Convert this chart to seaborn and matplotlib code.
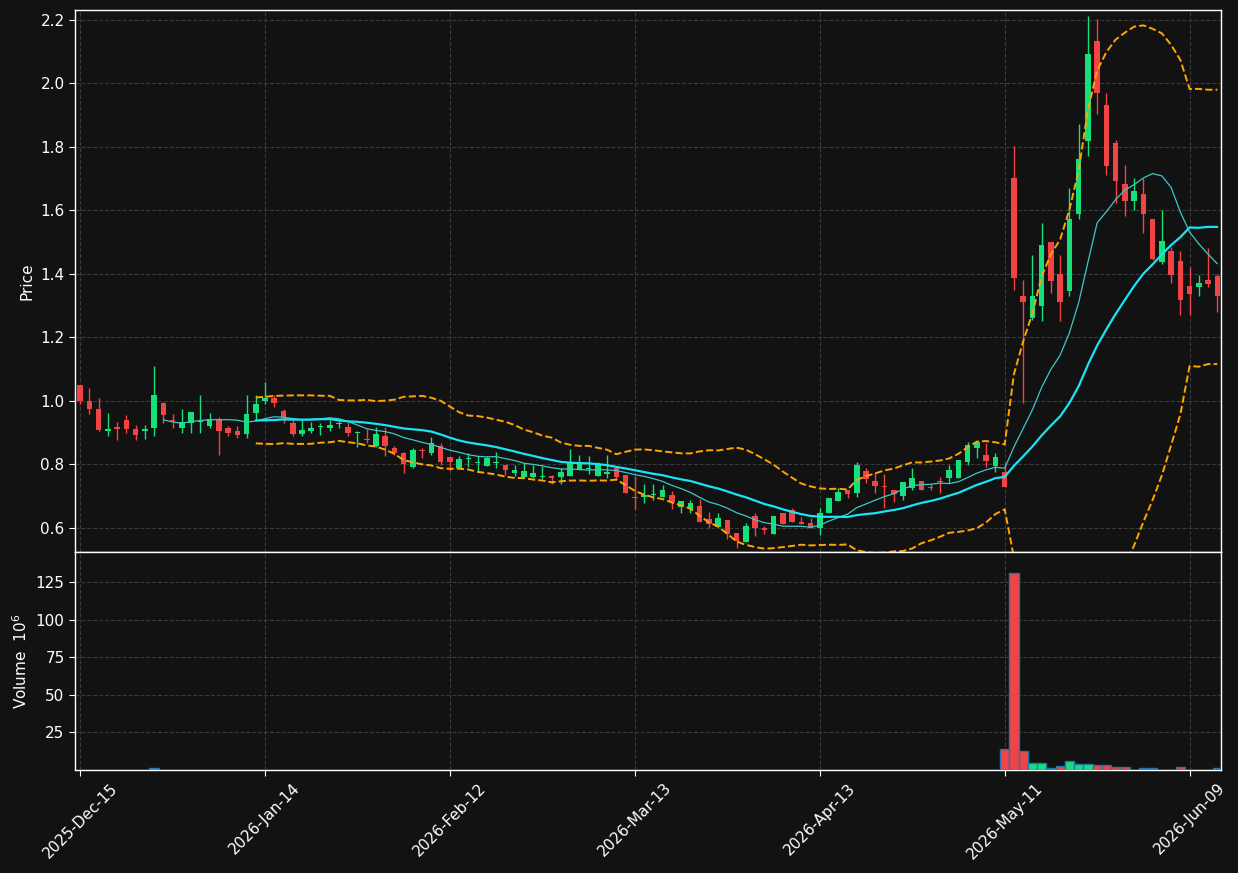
import numpy as np
import pandas as pd
import matplotlib
matplotlib.use('Agg')
import matplotlib.pyplot as plt
import seaborn as sns

# OHLC (mỗi phiên một giá trị)
opens = [1.05, 1.00, 0.975, 0.906, 0.918, 0.94, 0.91, 0.906, 0.916, 0.992,
         0.94, 0.916, 0.93, 0.932, 0.921, 0.942, 0.914, 0.905, 0.897, 0.963,
         1.00, 1.01, 0.968, 0.93, 0.897, 0.906, 0.917, 0.914, 0.928, 0.919,
         0.900, 0.88, 0.859, 0.89, 0.852, 0.835, 0.793, 0.845, 0.837, 0.858,
         0.823, 0.788, 0.816, 0.804, 0.796, 0.805, 0.798, 0.774, 0.76, 0.76,
         0.76, 0.762, 0.76, 0.762, 0.781, 0.785, 0.762, 0.769, 0.788, 0.767,
         0.697, 0.696, 0.702, 0.696, 0.704, 0.665, 0.659, 0.669, 0.628, 0.604,
         0.625, 0.583, 0.557, 0.638, 0.599, 0.581, 0.646, 0.657, 0.619, 0.615,
         0.599, 0.648, 0.686, 0.72, 0.709, 0.779, 0.748, 0.729, 0.72, 0.701,
         0.725, 0.748, 0.729, 0.746, 0.758, 0.758, 0.808, 0.85, 0.830, 0.795,
         0.777, 1.701, 1.331, 1.26, 1.30, 1.50, 1.399, 1.347, 1.589, 1.82,
         2.134, 1.932, 1.812, 1.683, 1.631, 1.652, 1.573, 1.438, 1.472, 1.441,
         1.362, 1.36, 1.381, 1.392]
closes = [1.00, 0.975, 0.909, 0.912, 0.912, 0.912, 0.894, 0.912, 1.019, 0.956,
          0.936, 0.932, 0.966, 0.94, 0.942, 0.906, 0.90, 0.894, 0.959, 0.991,
          1.01, 0.992, 0.95, 0.897, 0.909, 0.916, 0.918, 0.924, 0.93, 0.90,
          0.902, 0.878, 0.896, 0.859, 0.837, 0.80, 0.846, 0.843, 0.866, 0.809,
          0.809, 0.816, 0.82, 0.808, 0.82, 0.807, 0.783, 0.783, 0.78, 0.772,
          0.764, 0.758, 0.777, 0.809, 0.806, 0.788, 0.798, 0.775, 0.759, 0.711,
          0.695, 0.704, 0.707, 0.72, 0.683, 0.685, 0.678, 0.62, 0.613, 0.63,
          0.581, 0.56, 0.606, 0.599, 0.592, 0.638, 0.613, 0.617, 0.613, 0.599,
          0.646, 0.693, 0.713, 0.707, 0.798, 0.754, 0.733, 0.728, 0.707, 0.743,
          0.756, 0.72, 0.727, 0.744, 0.783, 0.814, 0.862, 0.869, 0.812, 0.822,
          0.728, 1.388, 1.31, 1.331, 1.491, 1.379, 1.31, 1.573, 1.761, 2.093,
          1.971, 1.741, 1.691, 1.631, 1.661, 1.589, 1.447, 1.502, 1.397, 1.318,
          1.337, 1.37, 1.368, 1.329]
highs = [1.05, 1.04, 1.008, 0.961, 0.932, 0.956, 0.923, 0.923, 1.11, 0.998,
         0.958, 0.974, 0.966, 1.019, 0.961, 0.949, 0.921, 0.921, 1.019, 1.019,
         1.06, 1.018, 0.974, 0.94, 0.94, 0.932, 0.93, 0.94, 0.942, 0.932,
         0.906, 0.91, 0.917, 0.919, 0.858, 0.84, 0.85, 0.851, 0.886, 0.867,
         0.823, 0.827, 0.835, 0.825, 0.825, 0.838, 0.798, 0.798, 0.804, 0.798,
         0.795, 0.767, 0.788, 0.848, 0.828, 0.825, 0.809, 0.83, 0.793, 0.767,
         0.762, 0.739, 0.739, 0.735, 0.715, 0.685, 0.688, 0.69, 0.649, 0.646,
         0.625, 0.583, 0.615, 0.646, 0.606, 0.638, 0.646, 0.662, 0.634, 0.631,
         0.662, 0.693, 0.725, 0.72, 0.809, 0.788, 0.777, 0.77, 0.72, 0.746,
         0.79, 0.748, 0.737, 0.76, 0.798, 0.814, 0.872, 0.869, 0.867, 0.837,
         0.804, 1.803, 1.381, 1.46, 1.56, 1.50, 1.458, 1.67, 1.871, 2.213,
         2.202, 1.969, 1.822, 1.743, 1.701, 1.701, 1.573, 1.601, 1.486, 1.472,
         1.421, 1.397, 1.48, 1.40]
lows = [0.99, 0.958, 0.905, 0.89, 0.877, 0.90, 0.877, 0.879, 0.888, 0.93,
        0.914, 0.898, 0.898, 0.898, 0.916, 0.828, 0.888, 0.882, 0.882, 0.94,
        0.99, 0.98, 0.93, 0.89, 0.89, 0.90, 0.892, 0.906, 0.914, 0.888,
        0.856, 0.866, 0.854, 0.827, 0.83, 0.772, 0.787, 0.82, 0.83, 0.798,
        0.778, 0.788, 0.793, 0.777, 0.796, 0.788, 0.767, 0.762, 0.76, 0.757,
        0.753, 0.739, 0.739, 0.762, 0.781, 0.77, 0.762, 0.756, 0.751, 0.709,
        0.659, 0.678, 0.688, 0.696, 0.659, 0.646, 0.646, 0.617, 0.599, 0.604,
        0.564, 0.536, 0.557, 0.573, 0.581, 0.581, 0.613, 0.617, 0.613, 0.599,
        0.578, 0.648, 0.686, 0.693, 0.697, 0.741, 0.709, 0.662, 0.683, 0.688,
        0.72, 0.72, 0.718, 0.709, 0.741, 0.758, 0.798, 0.82, 0.793, 0.777,
        0.728, 1.35, 0.993, 1.255, 1.25, 1.339, 1.25, 1.33, 1.572, 1.77,
        1.904, 1.71, 1.623, 1.581, 1.601, 1.53, 1.444, 1.431, 1.371, 1.271,
        1.271, 1.329, 1.36, 1.281]
# Khối lượng (triệu)
volumes = [0.3, 0.2, 0.3, 0.3, 0.3, 0.2, 0.3, 0.2, 1.5, 0.3,
           0.3, 0.2, 0.3, 0.2, 0.3, 0.3, 0.3, 0.2, 0.3, 0.3,
           0.2, 0.3, 0.2, 0.2, 0.2, 0.2, 0.2, 0.2, 0.2, 0.2,
           0.3, 0.2, 0.3, 0.3, 0.3, 0.2, 0.2, 0.2, 0.2, 0.2,
           0.2, 0.2, 0.2, 0.3, 0.2, 0.3, 0.2, 0.2, 0.2, 0.2,
           0.2, 0.3, 0.2, 0.2, 0.2, 0.3, 0.2, 0.2, 0.2, 0.3,
           0.2, 0.2, 0.2, 0.2, 0.3, 0.2, 0.2, 0.3, 0.3, 0.2,
           0.2, 0.2, 0.2, 0.2, 0.2, 0.2, 0.2, 0.2, 0.2, 0.2,
           0.3, 0.2, 0.2, 0.2, 0.3, 0.2, 0.2, 0.2, 0.2, 0.2,
           0.2, 0.2, 0.2, 0.2, 0.3, 0.2, 0.2, 0.2, 0.2, 0.2,
           13.8, 131.0, 12.4, 4.4, 4.4, 1.5, 2.4, 5.8, 3.8, 3.8,
           3.1, 3.1, 1.8, 1.8, 0.3, 1.1, 1.1, 0.3, 0.3, 1.8,
           0.3, 0.3, 0.3, 1.1]
tick_pos = [0, 20, 40, 60, 80, 100, 120]
tick_labels = ['2025-Dec-15', '2026-Jan-14', '2026-Feb-12', '2026-Mar-13',
               '2026-Apr-13', '2026-May-11', '2026-Jun-09']

df = pd.DataFrame({'open': opens, 'high': highs, 'low': lows,
                   'close': closes, 'volume': volumes})
df['i'] = np.arange(len(df))
df['ma10'] = df['close'].rolling(10).mean()
df['ma20'] = df['close'].rolling(20).mean()
sd = df['close'].rolling(20).std(ddof=0)
df['upper'] = df['ma20'] + 2 * sd
df['lower'] = df['ma20'] - 2 * sd

BG = '#121212'
UP = '#16e07a'
DOWN = '#f24444'
sns.set_style('dark', {'axes.facecolor': BG, 'figure.facecolor': BG})
plt.rcParams['font.family'] = ['DejaVu Sans']

fig = plt.figure(figsize=(12.38, 8.73), dpi=100)
ax = fig.add_axes([0.0606, 0.3677, 0.9257, 0.6208])
axv = fig.add_axes([0.0606, 0.118, 0.9257, 0.2497], sharex=ax)

up = df['close'] >= df['open']
colors = np.where(up, UP, DOWN)

# Nến
ax.vlines(df['i'], df['low'], df['high'], colors=colors, linewidth=1, zorder=3)
body = (df['close'] - df['open']).abs().clip(lower=0.003)
ax.bar(df['i'], body, bottom=df[['open', 'close']].min(axis=1), width=0.6,
       color=colors, edgecolor=colors, linewidth=0, zorder=4)

# Đường trung bình và dải Bollinger
sns.lineplot(data=df, x='i', y='ma10', ax=ax, color='#3cc8c8', linewidth=0.9, zorder=5)
sns.lineplot(data=df, x='i', y='ma20', ax=ax, color='#18e4f4', linewidth=1.6, zorder=5)
sns.lineplot(data=df, x='i', y='upper', ax=ax, color='#ffa500', linewidth=1.4,
             linestyle='--', zorder=5)
sns.lineplot(data=df, x='i', y='lower', ax=ax, color='#ffa500', linewidth=1.4,
             linestyle='--', zorder=5)

ax.set_ylim(0.524, 2.231)
ax.set_yticks(np.arange(0.6, 2.21, 0.2))
ax.set_ylabel('Price', color='white', fontsize=11)
ax.set_xlabel('')
ax.tick_params(axis='x', labelbottom=False, length=0)

# Khối lượng
axv.bar(df['i'], df['volume'], width=1.0, color=colors, edgecolor='#1f77b4',
        linewidth=1.0, zorder=3)
axv.set_ylim(0, 145)
axv.set_yticks([25, 50, 75, 100, 125])
axv.set_ylabel('Volume  $10^{6}$', color='white', fontsize=11)
axv.set_xlim(-0.55, 123.4)
axv.set_xticks(tick_pos)
axv.set_xticklabels(tick_labels, rotation=45)

for a in (ax, axv):
    a.grid(True, color='#3a3a3a', linestyle='--', linewidth=0.8)
    a.set_axisbelow(True)
    a.tick_params(colors='white', labelsize=11, left=True, bottom=True, length=4)
    for s in a.spines.values():
        s.set_color('white')
        s.set_linewidth(1.0)

fig.savefig('out.png', dpi=100, facecolor=BG)
